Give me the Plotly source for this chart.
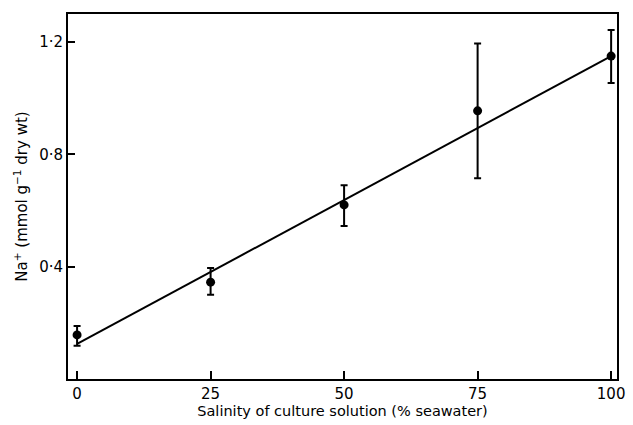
import plotly.graph_objects as go

salinity = [0, 25, 50, 75, 100]
na_mean = [0.157, 0.345, 0.620, 0.955, 1.150]
err_plus = [0.032, 0.050, 0.070, 0.240, 0.093]
err_minus = [0.039, 0.045, 0.075, 0.240, 0.096]

fit_x = [0, 100]
fit_y = [0.125, 1.150]

x_ticks = [0, 25, 50, 75, 100]
x_ticktext = ["0", "25", "50", "75", "100"]
y_ticks = [0.4, 0.8, 1.2]
y_ticktext = ["0·4", "0·8", "1·2"]

FONT = "DejaVu Sans, Liberation Sans, sans-serif"

fig = go.Figure()
fig.add_trace(go.Scatter(
    x=fit_x, y=fit_y, mode="lines",
    line=dict(color="black", width=2), showlegend=False, hoverinfo="skip"))
fig.add_trace(go.Scatter(
    x=salinity, y=na_mean, mode="markers",
    marker=dict(color="black", size=9),
    error_y=dict(type="data", symmetric=False, array=err_plus, arrayminus=err_minus,
                 color="black", thickness=2, width=3.5),
    showlegend=False))

fig.update_layout(
    width=633, height=425,
    margin=dict(l=68, r=8, t=14, b=46),
    paper_bgcolor="white", plot_bgcolor="white",
    font=dict(family=FONT, color="black", size=14),
    xaxis=dict(
        range=[-1.7, 101.1], tickvals=x_ticks, ticktext=x_ticktext,
        ticks="inside", ticklen=8, tickwidth=2, tickcolor="black",
        showline=True, linecolor="black", linewidth=2, mirror=True,
        showgrid=False, zeroline=False,
        tickfont=dict(size=15),
        title=dict(text="Salinity of culture solution (% seawater)",
                   font=dict(size=14.5), standoff=3),
    ),
    yaxis=dict(
        range=[0, 1.3], tickvals=y_ticks, ticktext=y_ticktext,
        ticks="inside", ticklen=7, tickwidth=2, tickcolor="black",
        showline=True, linecolor="black", linewidth=2, mirror=True,
        showgrid=False, zeroline=False,
        tickfont=dict(size=15),
        title=dict(text="Na<sup>+</sup> (mmol g<sup>−1</sup> dry wt)",
                   font=dict(size=15), standoff=8),
    ),
)

fig.write_html("out.html")
